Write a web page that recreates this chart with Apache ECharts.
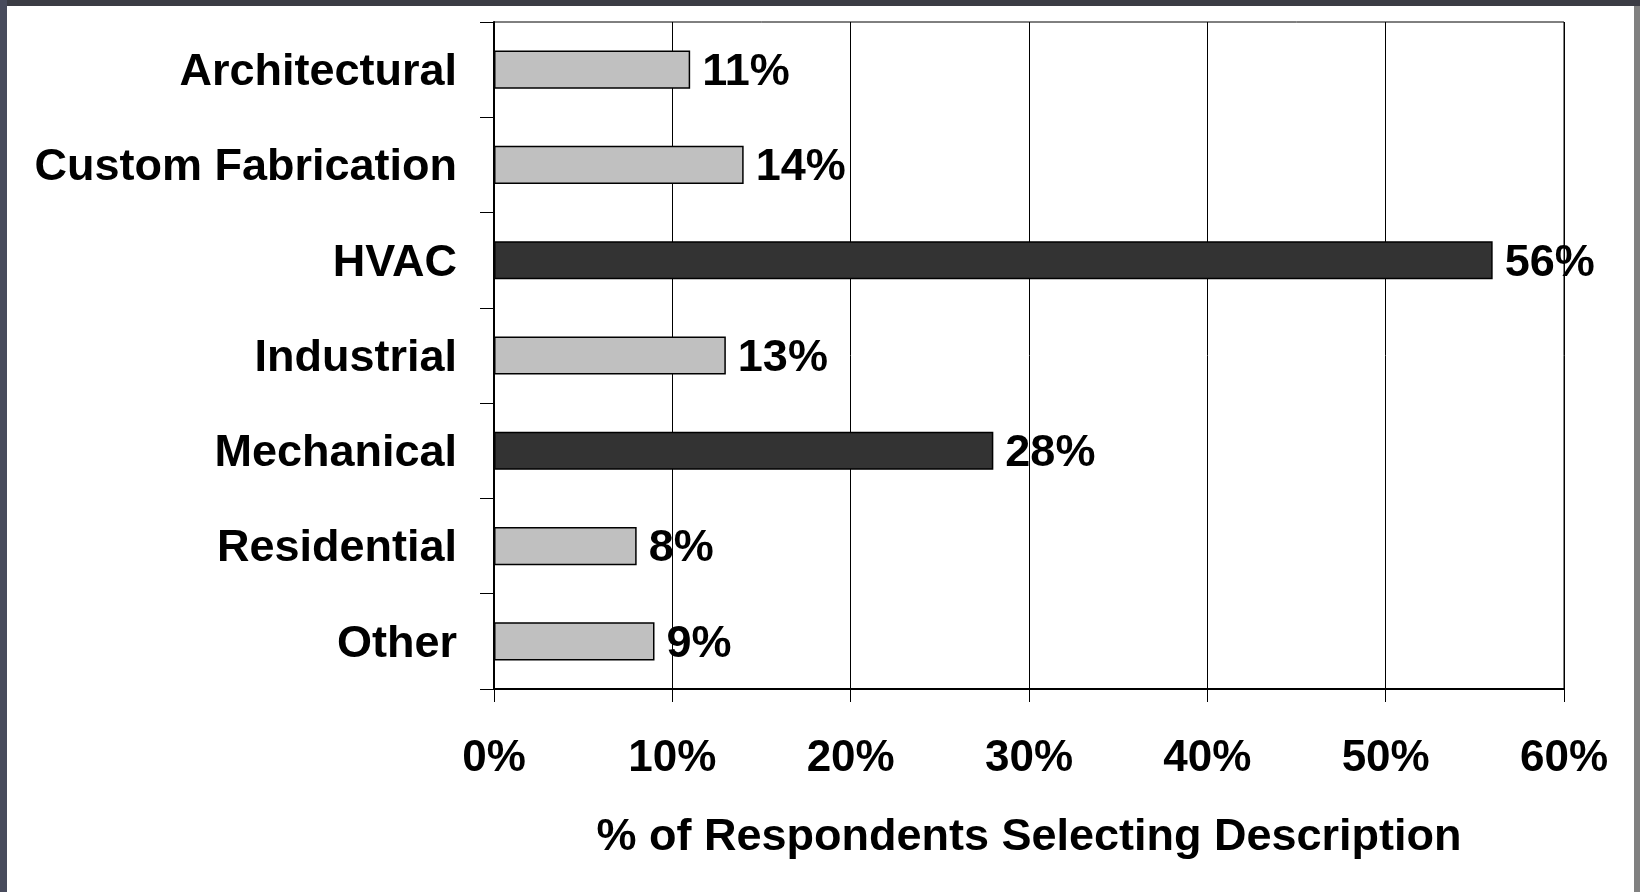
<!DOCTYPE html>
<html>
<head>
<meta charset="utf-8">
<script src="https://cdn.jsdelivr.net/npm/echarts@6/dist/echarts.min.js"></script>
<style>
  html, body { margin: 0; padding: 0; background: #ffffff; }
  #chart { width: 1640px; height: 892px; }
</style>
</head>
<body>
<div id="chart"></div>
<script>
// Industry descriptions chosen by respondents (percent)
const categories = ['Architectural', 'Custom Fabrication', 'HVAC', 'Industrial', 'Mechanical', 'Residential', 'Other'];
const shares = [11, 14, 56, 13, 28, 8, 9];
// Highlighted descriptions are drawn dark
const highlighted = ['HVAC', 'Mechanical'];
const xTicks = [0, 10, 20, 30, 40, 50, 60];

const FONT = '"Liberation Sans", Arial, Helvetica, sans-serif';
const LIGHT = '#c0c0c0';
const DARK = '#333333';

const chart = echarts.init(document.getElementById('chart'), null, { renderer: 'canvas' });

chart.setOption({
  animation: false,
  backgroundColor: '#ffffff',
  graphic: [
    // frame strips round the white card
    { type: 'rect', shape: { x: 0, y: 0, width: 1640, height: 6 }, style: { fill: '#3b3c44' }, silent: true },
    { type: 'rect', shape: { x: 0, y: 0, width: 7, height: 892 }, style: { fill: '#484b5c' }, silent: true },
    { type: 'rect', shape: { x: 1634, y: 6, width: 6, height: 886 }, style: { fill: '#808080' }, silent: true }
  ],
  grid: {
    left: 494, right: 76, top: 22, bottom: 203,
    show: true, borderColor: '#000000', borderWidth: 1, backgroundColor: 'transparent'
  },
  xAxis: {
    type: 'value',
    min: xTicks[0],
    max: xTicks[xTicks.length - 1],
    interval: 10,
    name: '% of Respondents Selecting Description',
    nameLocation: 'middle',
    nameGap: 126,
    nameTextStyle: { fontFamily: FONT, fontWeight: 'bold', fontSize: 45, color: '#000' },
    axisLine: { show: true, lineStyle: { color: '#000', width: 2 } },
    axisTick: { show: true, length: 13, inside: false, lineStyle: { color: '#000', width: 1 } },
    axisLabel: {
      margin: 48,
      formatter: '{value}%',
      fontFamily: FONT, fontWeight: 'bold', fontSize: 44, color: '#000'
    },
    splitLine: { show: true, lineStyle: { color: '#000', width: 1 } }
  },
  yAxis: {
    type: 'category',
    data: categories,
    inverse: true,
    axisLine: { show: true, lineStyle: { color: '#000', width: 2 } },
    axisTick: { show: true, length: 14, inside: false, alignWithLabel: false, lineStyle: { color: '#000', width: 1 } },
    axisLabel: {
      margin: 37,
      formatter: (v) => '{t|' + v + '}',
      rich: {
        t: { padding: [6, 0, 0, 0], fontFamily: FONT, fontWeight: 'bold', fontSize: 45, color: '#000' }
      },
      fontFamily: FONT, fontWeight: 'bold', fontSize: 45, color: '#000'
    },
    splitLine: { show: false }
  },
  series: [{
    type: 'bar',
    data: shares.map((v, i) => ({
      value: v,
      itemStyle: { color: highlighted.includes(categories[i]) ? DARK : LIGHT }
    })),
    barWidth: '40%',
    itemStyle: { borderColor: '#000', borderWidth: 1.5 },
    label: {
      show: true,
      position: 'right',
      distance: 12,
      offset: [0, 3],
      formatter: '{c}%',
      fontFamily: FONT, fontWeight: 'bold', fontSize: 45, color: '#000'
    }
  }]
});
</script>
</body>
</html>
